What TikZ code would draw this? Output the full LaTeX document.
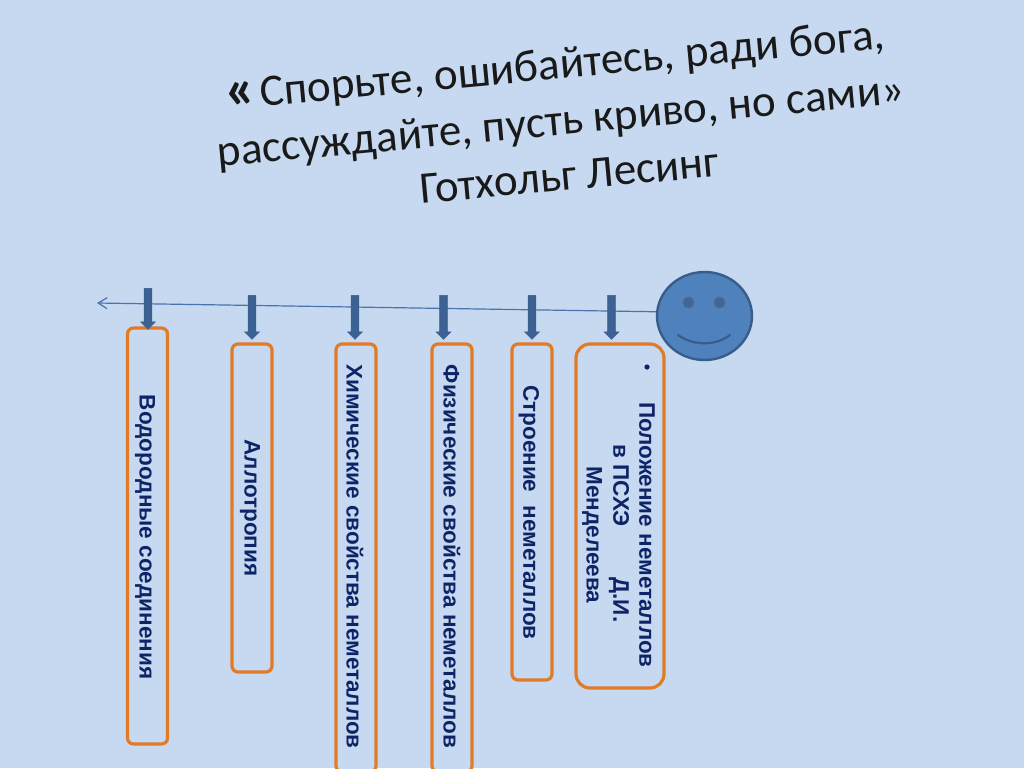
\documentclass[tikz,border=0pt]{standalone}
\usepackage{fontspec}
\setmainfont{Carlito}
\newfontfamily\boxfont{Liberation Sans}
\usetikzlibrary{shapes.arrows,shapes.geometric,arrows.meta,shadows}
\definecolor{bgblue}{HTML}{C6D9F1}
\definecolor{faceblue}{HTML}{4F81BD}
\definecolor{edgeblue}{HTML}{385D8A}
\definecolor{boxorange}{HTML}{E07B28}
\definecolor{navy}{HTML}{0F2466}
\tikzset{
  x=1pt,y=-1pt,
  titleline/.style={rotate=5.3,font=\fontsize{45}{45}\selectfont,text=black!90,inner sep=0,anchor=base},
  orangebox/.style={draw=boxorange,line width=3.2pt,rounded corners=6pt,minimum width=40pt,inner sep=0,
    drop shadow={shadow xshift=0pt,shadow yshift=0pt,opacity=.25,fill=black!60}, fill=bgblue},
  boxtext/.style={rotate=-90,font=\boxfont\bfseries\fontsize{22.5}{22.5}\selectfont,text=navy,inner sep=0},
  downarrow/.style={single arrow,draw=edgeblue,fill=edgeblue!85!faceblue,shape border rotate=270,
    minimum width=15pt,single arrow head extend=3.5pt,single arrow tip angle=90,inner sep=0,minimum height=44pt,line width=.4pt,
    anchor=center,text width=7pt},
}
\begin{document}
\begin{tikzpicture}
\useasboundingbox (0,0) rectangle (1024,768);
\fill[bgblue] (0,0) rectangle (1024,768);
\node[titleline] (t1) at (556,79.2) {{\fontsize{58}{58}\selectfont\bfseries «}\hspace{4pt}Спорьте, ошибайтесь, ради бога,};
\node[titleline] (t2) at (562,135) {рассуждайте, пусть криво, но сами»};
\node[titleline] (t3) at (571,190) {Готхольг Лесинг};

\node[draw=edgeblue,fill=faceblue,line width=2.4pt,ellipse,minimum width=95pt,minimum height=88pt,inner sep=0] (face) at (704.5,316) {};
\coordinate (lineend) at (97,303);
\draw[-{Straight Barb[length=9pt,width=11pt]},faceblue!90!black,line width=1.2pt] (face.175) -- (lineend);
\fill[edgeblue!75!faceblue,draw=edgeblue!90,line width=1pt] (688.5,302.5) circle (5.5);
\fill[edgeblue!75!faceblue,draw=edgeblue!90,line width=1pt] (719.5,302.5) circle (5.5);
\draw[edgeblue,line width=2.2pt,line cap=round] (678,335) .. controls (693,346) and (716,346) .. (730,335);

\node[orangebox,minimum height=416pt] (b1) at (147.5,536) {};
\node[orangebox,minimum height=328pt] (b2) at (252,508) {};
\node[orangebox,minimum height=428pt] (b3) at (356,558) {};
\node[orangebox,minimum height=428pt] (b4) at (452,558) {};
\node[orangebox,minimum height=336pt] (b5) at (532,512) {};
\node[orangebox,minimum height=344pt,minimum width=88pt,rounded corners=14pt] (b6) at (620,516) {};

\node[boxtext] (l1) at (145,537) {Водородные соединения};
\node[boxtext] (l2) at (250,508) {Аллотропия};
\node[boxtext] (l3) at (355,556.5) {Химические свойства неметаллов};
\node[boxtext] (l4) at (452,556.5) {Физические свойства неметаллов};
\node[boxtext] (l5) at (529,512.5) {Строение\hspace{7pt} неметаллов};
\node[boxtext] (l6) at (647,535) {Положение неметаллов};
\node[boxtext] (l7) at (619,533.5) {в ПСХЭ\hspace{51pt}Д.И.};
\node[boxtext] (l8) at (592,535) {Менделеева};
\fill[navy] (647,367) circle (2.6) coordinate (bul);

\node[downarrow,minimum height=41pt] (a1) at (148,307) {};
\node[downarrow] (a2) at (252,315.5) {};
\node[downarrow] (a3) at (355,315.5) {};
\node[downarrow] (a4) at (443.5,315.5) {};
\node[downarrow] (a5) at (532,315.5) {};
\node[downarrow] (a6) at (611.5,315.5) {};
\end{tikzpicture}
\end{document}
